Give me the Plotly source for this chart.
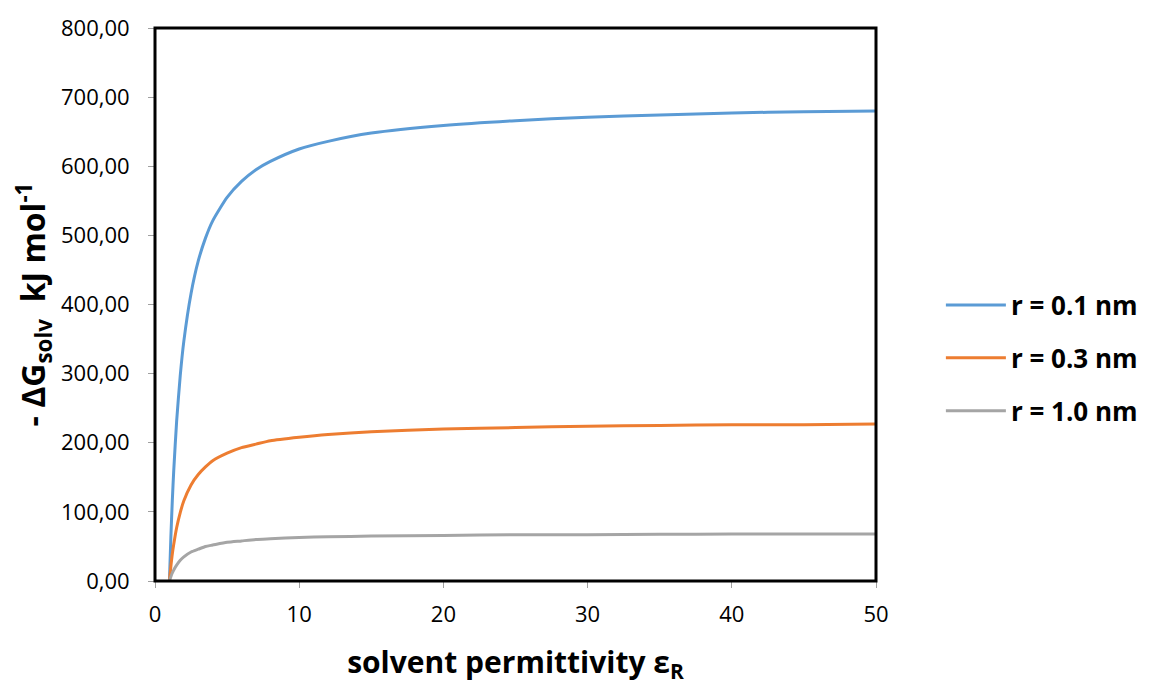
import plotly.graph_objects as go

# Solvent permittivity (x) and -ΔG_solv values (kJ/mol)
eps = [1, 1.1, 1.2, 1.3, 1.5, 1.75, 2, 2.5, 3, 3.5, 4, 5, 6, 7, 8, 10, 12, 15,
       20, 25, 30, 35, 40, 45, 50]
g_r01 = [0, 63, 116, 160, 231, 297, 347, 416, 463, 496, 521, 555, 578, 595,
         607, 625, 636, 648, 659, 666, 671, 674, 677, 679, 680]
g_r03 = [0, 21, 39, 53, 77, 99, 116, 139, 154, 165, 174, 185, 193, 198, 203,
         208, 212, 216, 220, 222, 224, 225, 226, 226, 227]
g_r10 = [0, 6.3, 11.6, 16, 23, 30, 35, 42, 46, 50, 52, 56, 58, 60, 61, 63, 64,
         65, 66, 67, 67, 67.5, 68, 68, 68]

series_names = ["r = 0.1 nm", "r = 0.3 nm", "r = 1.0 nm"]
series_vals = [g_r01, g_r03, g_r10]
colors = ["#5B9BD5", "#ED7D31", "#A5A5A5"]

x_ticks = [0, 10, 20, 30, 40, 50]
y_ticks = [0, 100, 200, 300, 400, 500, 600, 700, 800]

FONT = "Open Sans, Liberation Sans, sans-serif"

fig = go.Figure()
for i, (name, vals, col) in enumerate(zip(series_names, series_vals, colors)):
    fig.add_trace(go.Scatter(
        x=eps, y=vals, mode="lines", name=name, legendgroup=f"g{i}",
        line=dict(color=col, width=3, shape="spline", smoothing=0.6),
    ))

fig.update_layout(
    width=1152, height=684,
    margin=dict(l=147, r=284, t=20, b=111, autoexpand=False),
    paper_bgcolor="white", plot_bgcolor="white",
    separators=",.",
    font=dict(family=FONT, color="black", size=22),
    showlegend=True,
    legend=dict(
        x=1.09, y=0.403, xanchor="left", yanchor="middle",
        font=dict(family=FONT, size=26, color="black", weight="bold"),
        tracegroupgap=16, itemwidth=60,
        bgcolor="rgba(0,0,0,0)",
    ),
    shapes=[dict(type="rect", xref="paper", yref="paper", x0=0, y0=0, x1=1, y1=1,
                 line=dict(color="black", width=3), layer="above")],
)

fig.update_xaxes(
    range=[0, 50], tickvals=x_ticks, ticks="outside", ticklen=6,
    tickcolor="#A0A0A0", showline=True, linecolor="#A0A0A0", linewidth=1,
    showgrid=False, zeroline=False, automargin=False, ticklabelstandoff=8,
    tickfont=dict(family=FONT, size=22),
    title=dict(text="solvent permittivity ε<sub>R</sub>",
               font=dict(family=FONT, size=30, weight="bold"), standoff=24),
)
fig.update_yaxes(
    range=[0, 800], tickvals=y_ticks, tickformat=".2f", ticks="outside",
    ticklen=6, tickcolor="#A0A0A0", showline=True, linecolor="#A0A0A0",
    linewidth=1, showgrid=False, zeroline=False, automargin=False,
    ticklabelstandoff=14,
    tickfont=dict(family=FONT, size=22),
    title=dict(text="- ΔG<sub>solv</sub>  kJ mol<sup>-1</sup>",
               font=dict(family=FONT, size=32, weight="bold"), standoff=6),
)

fig.write_html("out.html")
